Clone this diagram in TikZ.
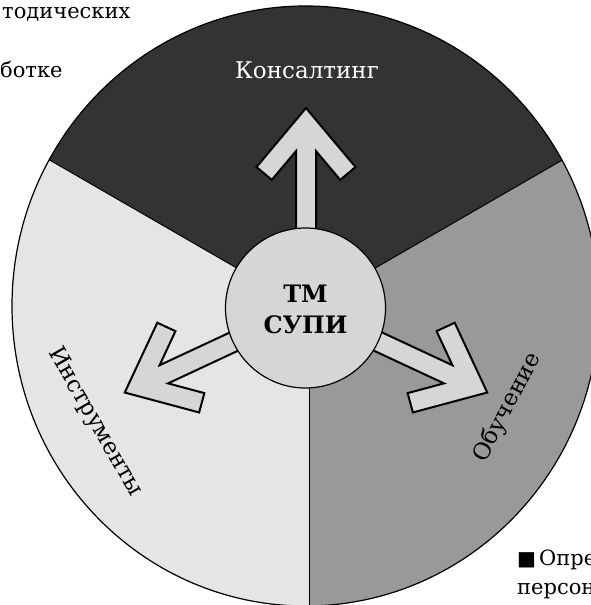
\documentclass[tikz,border=0pt]{standalone}
\usepackage{fontspec}
\setmainfont{DejaVu Serif}
\newfontfamily\symbolfont{DejaVu Sans}
\definecolor{sectordark}{HTML}{333333}
\definecolor{sectorlight}{HTML}{E5E5E5}
\definecolor{sectormid}{HTML}{999999}
\definecolor{hubgray}{HTML}{D6D6D6}
\tikzset{
  rim/.style={draw=black, line width=1.2pt},
  divider/.style={draw=black, line width=1pt},
  arrowbody/.style={fill=hubgray, draw=black, line width=2pt, line join=miter},
  labeltext/.style={font=\fontsize{23}{27}\selectfont, inner sep=0pt},
  hubtext/.style={font=\bfseries\fontsize{24}{28}\selectfont, inner sep=0pt, anchor=base},
  pagetext/.style={font=\fontsize{21}{25}\selectfont, inner sep=0pt, anchor=base west},
  pics/blockarrow/.style={code={
    \draw[arrowbody] (60,-10) -- (156.9,-10) -- (128.1,-34.2) -- (141,-49.5)
      -- (200,0) -- (141,49.5) -- (128.1,34.2) -- (156.9,10) -- (60,10) -- cycle;
  }}
}
\begin{document}
\begin{tikzpicture}[x=1pt,y=-1pt]
\useasboundingbox (0,0) rectangle (591,605);
\clip (0,0) rectangle (591,605);
\coordinate (hub) at (306,308);

% three sectors of the wheel
\begin{scope}
  \clip (305.5,306) ellipse [x radius=293.5, y radius=300];
  \fill[sectorlight] (0,0) rectangle (591,605);
  \fill[sectordark] (hub) -- (-213.6,8) -- (-213.6,-300) -- (825.6,-300) -- (825.6,8) -- cycle;
  \fill[sectormid] (hub) -- (825.6,8) -- (900,8) -- (900,700) -- (309.5,700) -- (309.5,308) -- cycle;
  \draw[divider] (hub) -- (-213.6,8);
  \draw[divider] (hub) -- (825.6,8);
  \draw[divider] (309.5,308) -- (309.5,700);
\end{scope}
\draw[rim] (305.5,306) ellipse [x radius=293.5, y radius=300];

% block arrows leaving the hub
\pic[rotate=90] at (hub) {blockarrow};
\pic[rotate=205] at (hub) {blockarrow};
\pic[rotate=-25] at (hub) {blockarrow};

% hub
\node[circle, fill=hubgray, draw=black, line width=1.2pt, minimum size=160pt, inner sep=0pt] (disc) at (305.5,308) {};
\node[hubtext] (tm) at (305.5,302) {ТМ};
\node[hubtext] (supi) at (305.5,333) {СУПИ};

% sector labels
\node[labeltext, text=white, anchor=base] (consulting) at (307,78) {Консалтинг};
\node[labeltext, rotate=-60] (tools) at (95,422) {Инструменты};
\node[labeltext, rotate=62] (training) at (507.5,407.5) {Обучение};

% surrounding page text
\node[pagetext] (t1) at (2,19) {тодических};
\node[pagetext] (t2) at (0,77) {ботке};
\node[pagetext] (t3) at (517,565) {{\symbolfont\fontsize{20}{24}\selectfont ■}\kern3pt Опре};
\node[pagetext] (t4) at (517,594) {персон};
\end{tikzpicture}
\end{document}
